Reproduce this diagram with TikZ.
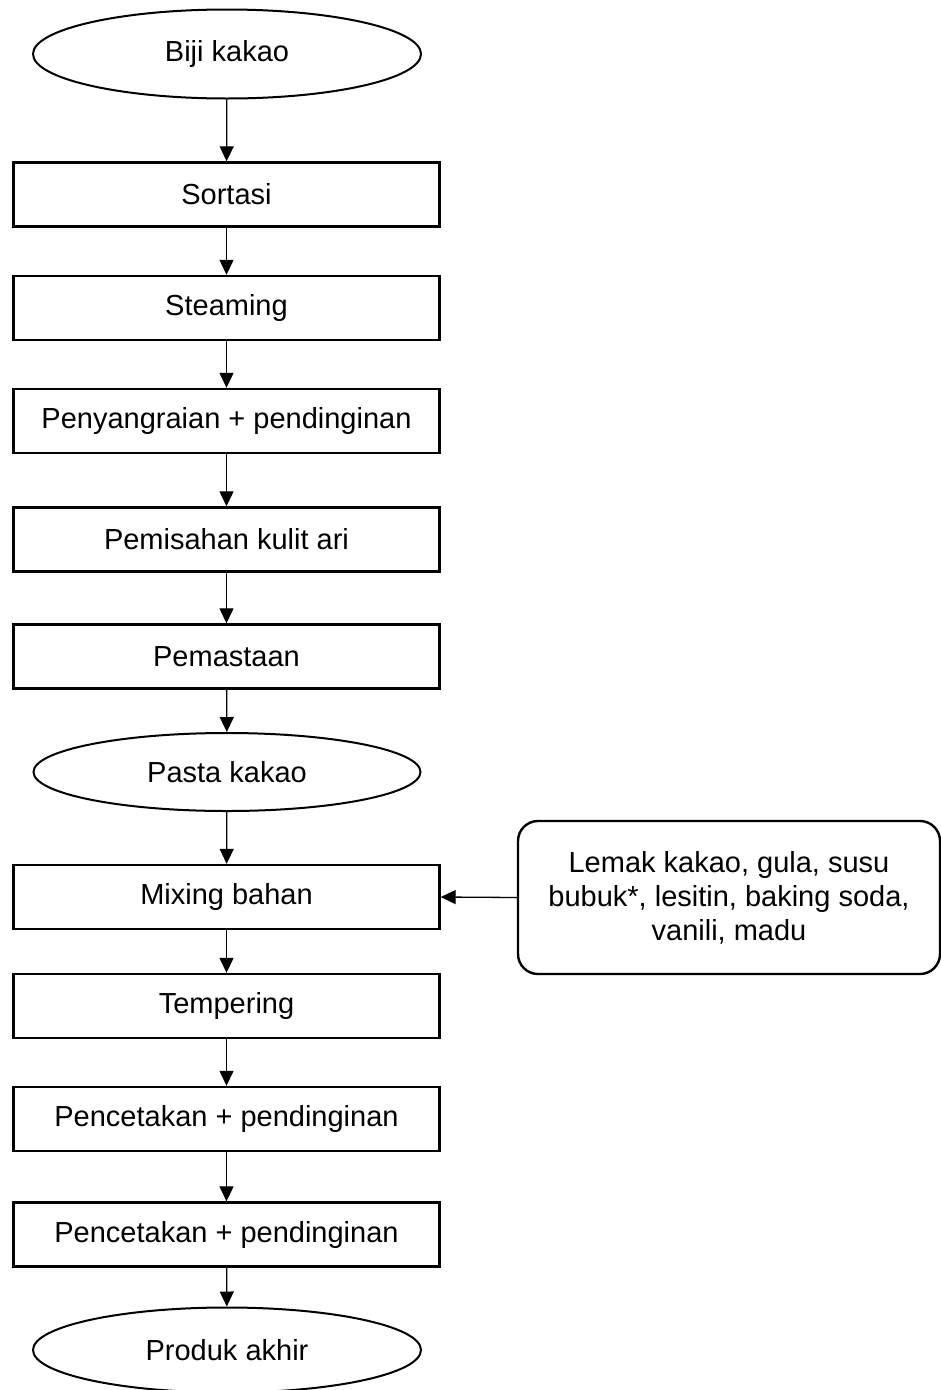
\documentclass[tikz,border=0pt]{standalone}
\usepackage{fontspec}
\setmainfont{Liberation Sans}
\usetikzlibrary{shapes.geometric,arrows.meta}
\begin{document}
\begin{tikzpicture}[x=1pt,y=-1pt,
  procbox/.style={draw,line width=2.4pt,rectangle,minimum width=426pt,minimum height=64pt,inner sep=0pt,font=\fontsize{29}{34}\selectfont},
  termnode/.style={draw,line width=2pt,ellipse,inner sep=0pt,font=\fontsize{29}{34}\selectfont},
  sidebox/.style={draw,line width=2.4pt,rectangle,rounded corners=20pt,minimum width=422pt,minimum height=153pt,inner sep=0pt,align=center,font=\fontsize{29}{34}\selectfont},
  arr/.style={line width=1.3pt,-{Triangle[length=15pt,width=14pt]}}]
\useasboundingbox (0,0) rectangle (941,1390);
\fill[white] (0,0) rectangle (941,1390);
\node[termnode,minimum width=388pt,minimum height=89pt] (biji) at (227,54) {Biji kakao};
\node[procbox] (sort) at (226.5,194.5) {Sortasi};
\node[procbox] (steam) at (226.5,308) {Steaming};
\node[procbox] (sangrai) at (226.5,421) {Penyangraian + pendinginan};
\node[procbox] (pisah) at (226.5,539.5) {Pemisahan kulit ari};
\node[procbox] (pasta) at (226.5,656.5) {Pemastaan};
\node[termnode,minimum width=387pt,minimum height=78pt] (pk) at (227,772) {Pasta kakao};
\node[procbox] (mix) at (226.5,897) {Mixing bahan};
\node[procbox] (temp) at (226.5,1006) {Tempering};
\node[procbox] (cetak1) at (226.5,1119) {Pencetakan + pendinginan};
\node[procbox] (cetak2) at (226.5,1234.5) {Pencetakan + pendinginan};
\node[termnode,minimum width=388pt,minimum height=85pt] (produk) at (227,1350) {Produk akhir};
\node[sidebox] (bahan) at (729,897.5) {Lemak kakao, gula, susu\\bubuk*, lesitin, baking soda,\\vanili, madu};
\draw[arr] (biji) -- (sort);
\draw[arr] (sort) -- (steam);
\draw[arr] (steam) -- (sangrai);
\draw[arr] (sangrai) -- (pisah);
\draw[arr] (pisah) -- (pasta);
\draw[arr] (pasta) -- (pk);
\draw[arr] (pk) -- (mix);
\draw[arr] (mix) -- (temp);
\draw[arr] (temp) -- (cetak1);
\draw[arr] (cetak1) -- (cetak2);
\draw[arr] (cetak2) -- (produk);
\draw[arr] (bahan.west) -- (mix.east);
\end{tikzpicture}
\end{document}
